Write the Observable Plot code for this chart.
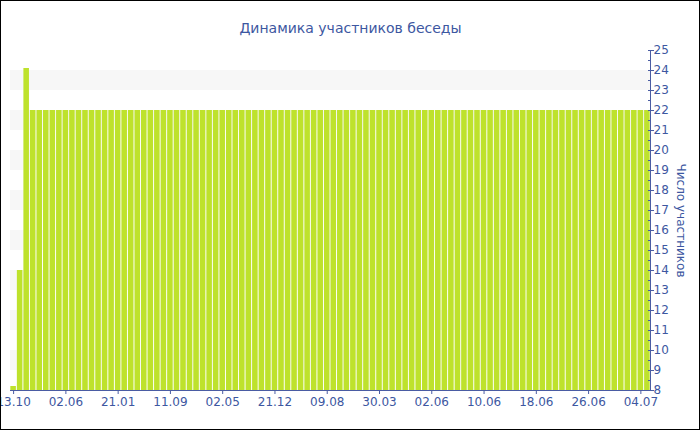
<!DOCTYPE html>
<html>
<head>
<meta charset="utf-8">
<script src="https://cdn.jsdelivr.net/npm/d3@7"></script>
<script src="https://cdn.jsdelivr.net/npm/@observablehq/plot@0.6"></script>
<style>
  html, body { margin: 0; padding: 0; background: #fff; }
  #wrap { position: relative; width: 700px; height: 430px; overflow: hidden; }
  #wrap svg { position: absolute; left: 0; top: 0; }
  #border { position: absolute; left: 0; top: 0; width: 700px; height: 430px; box-sizing: border-box; border: 1px solid #000; pointer-events: none; }
</style>
</head>
<body>
<div id="wrap"><div id="border"></div></div>
<script>
const title = "Динамика участников беседы";
const yLabel = "Число участников";

// participants per day (98 categories)
const counts = [
  8.2, 14, 24.1, 22, 22, 22, 22, 22, 22, 22,
  22, 22, 22, 22, 22, 22, 22, 22, 22, 22,
  22, 22, 22, 22, 22, 22, 22, 22, 22, 22,
  22, 22, 22, 22, 22, 22, 22, 22, 22, 22,
  22, 22, 22, 22, 22, 22, 22, 22, 22, 22,
  22, 22, 22, 22, 22, 22, 22, 22, 22, 22,
  22, 22, 22, 22, 22, 22, 22, 22, 22, 22,
  22, 22, 22, 22, 22, 22, 22, 22, 22, 22,
  22, 22, 22, 22, 22, 22, 22, 22, 22, 22,
  22, 22, 22, 22, 22, 22, 22, 22
];

// x tick labels (every 8th category)
const tickIndex = [0, 8, 16, 24, 32, 40, 48, 56, 64, 72, 80, 88, 96];
const tickLabels = ["13.10", "02.06", "21.01", "11.09", "02.05", "21.12", "09.08", "30.03", "02.06", "10.06", "18.06", "26.06", "04.07"];

const yTicks = [8, 9, 10, 11, 12, 13, 14, 15, 16, 17, 18, 19, 20, 21, 22, 23, 24, 25];
const yMinor = [8.5, 9.5, 10.5, 11.5, 12.5, 13.5, 14.5, 15.5, 16.5, 17.5, 18.5, 19.5, 20.5, 21.5, 22.5, 23.5, 24.5];
const bandStarts = [9, 11, 13, 15, 17, 19, 21, 23];

const data = counts.map((v, i) => ({i, v}));
const labelOf = new Map(tickIndex.map((k, j) => [k, tickLabels[j]]));

const ink = "#3d57a1";
const axisCol = "#4a5ca3";

const chart = Plot.plot({
  width: 700,
  height: 430,
  marginLeft: 10,
  marginRight: 50,
  marginTop: 50,
  marginBottom: 40,
  style: {fontFamily: "'DejaVu Sans', sans-serif", fontSize: "12px", color: ink, background: "transparent"},
  x: {type: "band", domain: d3.range(counts.length), paddingInner: 0.15, paddingOuter: 0.05, axis: null},
  y: {domain: [8, 25], axis: null},
  marks: [
    Plot.rect(bandStarts, {y1: d => d, y2: d => d + 1, fill: "#f7f7f7"}),
    Plot.barY(data, {x: "i", y1: 8, y2: "v", fill: "#bee22c"}),
    Plot.frame({anchor: "bottom", stroke: axisCol}),
    Plot.frame({anchor: "right", stroke: axisCol}),
    Plot.axisX({ticks: tickIndex, tickFormat: d => labelOf.get(d), tickSize: 4, tickPadding: 3, stroke: axisCol, fill: ink, fontSize: 12, label: null}),
    Plot.axisY({anchor: "right", ticks: yTicks, tickSize: 3, tickPadding: 0, stroke: axisCol, fill: ink, fontSize: 12, label: null}),
    Plot.axisY({anchor: "right", ticks: yTicks, tickSize: -3, tickFormat: () => "", stroke: axisCol, label: null}),
    Plot.axisY({anchor: "right", ticks: yMinor, tickSize: -3, tickFormat: () => "", stroke: axisCol, label: null}),
    Plot.text([title], {frameAnchor: "top", dx: 20, dy: -27, fill: ink, fontSize: 14}),
    Plot.text([yLabel], {frameAnchor: "right", dx: 30, rotate: 90, textAnchor: "middle", fill: ink, fontSize: 12})
  ]
});

document.getElementById("wrap").insertBefore(chart, document.getElementById("border"));
</script>
</body>
</html>
